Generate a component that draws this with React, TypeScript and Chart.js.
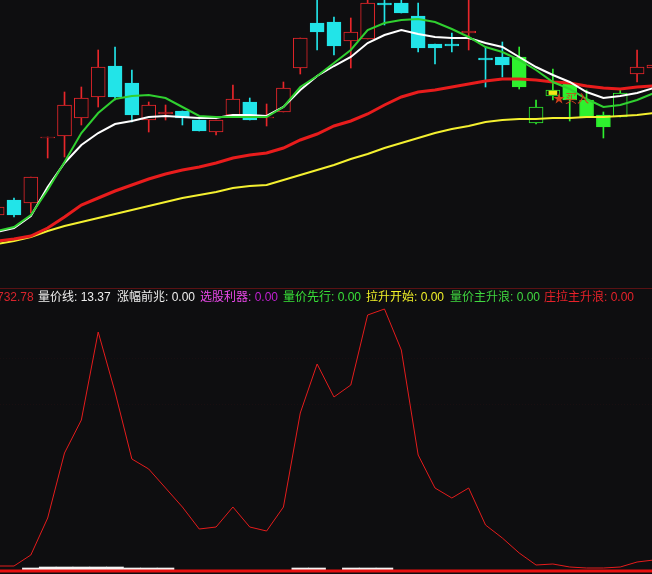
import React, { useEffect, useRef } from 'react';
import { Chart, registerables } from 'chart.js';
Chart.register(...registerables);

// ---------- data ----------
const openP = [19.25, 20.0, 19.85, 23.1, 23.2, 24.1, 25.15, 26.7, 25.85, 24.0, 24.3, 24.45, 24.0, 23.4, 24.25, 24.9, 24.1, 24.4, 26.6, 28.85, 28.9, 27.95, 28.05, 29.85, 29.85, 29.2, 27.8, 27.8, 28.35, 27.1, 27.15, 27.15, 23.85, 25.2, 25.8, 25.0, 24.25, 24.15, 26.3, 26.6];
const highP = [19.75, 20.1, 21.15, 23.15, 25.4, 25.65, 27.5, 27.65, 26.5, 24.9, 24.75, 24.45, 24.0, 24.0, 25.75, 25.1, 24.8, 25.9, 28.1, 30.25, 29.15, 29.1, 30.15, 30.1, 30.1, 29.85, 27.8, 28.35, 30.1, 27.65, 27.9, 27.65, 25.0, 26.55, 25.8, 25.5, 24.4, 25.5, 27.5, 27.0];
const lowP = [19.15, 19.15, 19.35, 22.1, 22.15, 23.75, 24.65, 25.0, 23.9, 23.4, 24.0, 23.75, 23.45, 23.25, 24.15, 24.0, 23.7, 24.4, 26.3, 27.5, 27.25, 26.6, 28.05, 28.75, 29.35, 27.4, 26.8, 27.4, 27.5, 25.65, 26.15, 25.55, 23.8, 25.0, 23.95, 24.15, 23.1, 24.15, 25.9, 26.4];
const closeP = [19.65, 19.25, 21.15, 23.15, 24.75, 25.1, 26.65, 25.15, 24.25, 24.75, 24.4, 24.1, 23.45, 24.0, 25.05, 24.0, 24.15, 25.6, 28.1, 28.4, 27.7, 28.4, 29.85, 29.75, 29.35, 27.6, 27.6, 27.7, 28.45, 27.0, 26.75, 25.65, 24.65, 25.5, 25.0, 24.15, 23.65, 25.35, 26.65, 26.75];
// 量价主升浪 flag per bar
const mainWave = [0, 0, 0, 0, 0, 0, 0, 0, 0, 0, 0, 0, 0, 0, 0, 0, 0, 0, 0, 0, 0, 0, 0, 0, 0, 0, 0, 0, 0, 0, 0, 1, 1, 1, 1, 1, 1, 1, 0, 0];

const maGreen = [18.45, 18.65, 19.25, 20.5, 21.9, 23.35, 24.35, 25.05, 25.2, 25.25, 25.1, 24.65, 24.2, 24.15, 24.15, 24.15, 24.15, 24.65, 25.65, 26.2, 26.85, 27.5, 28.5, 28.85, 29.0, 29.05, 28.9, 28.55, 28.15, 27.65, 27.4, 27.0, 26.5, 25.9, 25.55, 25.05, 24.65, 24.75, 25.0, 25.35];
const maWhite = [18.4, 18.6, 19.2, 20.65, 21.85, 22.75, 23.35, 23.8, 23.95, 24.15, 24.2, 24.15, 24.1, 24.1, 24.25, 24.25, 24.2, 24.65, 25.5, 26.2, 26.7, 27.15, 27.85, 28.25, 28.5, 28.3, 28.15, 28.1, 28.1, 27.85, 27.65, 27.15, 26.65, 26.25, 25.9, 25.4, 25.1, 25.2, 25.35, 25.6];
const maRed = [17.95, 18.05, 18.2, 18.6, 19.15, 19.75, 20.1, 20.45, 20.75, 21.05, 21.3, 21.5, 21.65, 21.85, 22.1, 22.25, 22.35, 22.6, 23.0, 23.3, 23.7, 23.95, 24.3, 24.75, 25.15, 25.4, 25.5, 25.65, 25.8, 25.95, 26.05, 26.05, 26.0, 25.9, 25.85, 25.7, 25.6, 25.55, 25.65, 25.7];
const maYellow = [17.8, 17.95, 18.15, 18.45, 18.7, 18.9, 19.1, 19.3, 19.5, 19.7, 19.9, 20.1, 20.25, 20.4, 20.6, 20.7, 20.75, 21.0, 21.25, 21.5, 21.75, 22.05, 22.3, 22.6, 22.85, 23.1, 23.35, 23.55, 23.7, 23.9, 24.0, 24.05, 24.05, 24.1, 24.1, 24.15, 24.15, 24.2, 24.25, 24.35];

// 拉升开始 marker
const liftIdx = [33];
const liftLow = [25.27];
const liftHigh = [25.45];
// buy signal
const signalIdx = 33;
const signalPrice = 25.1;
const signalText = '★买入';

// lower indicator
const flowLine = [50, 50, 160, 530, 1180, 1510, 2390, 1790, 1120, 1020, 830, 640, 420, 440, 640, 440, 400, 640, 1580, 2070, 1740, 1860, 2560, 2620, 2210, 1160, 830, 730, 830, 460, 330, 180, 60, 70, 40, 30, 30, 40, 90, 110];
const pulse = [null, null, 30, 40, 40, 40, 40, 40, 30, 30, 30, null, null, null, null, null, null, null, 30, 30, null, 30, 30, 30, null, null, null, null, null, null, null, null, null, null, null, null, null, null, null, null];
const baseLine = [0, 0, 0, 0, 0, 0, 0, 0, 0, 0, 0, 0, 0, 0, 0, 0, 0, 0, 0, 0, 0, 0, 0, 0, 0, 0, 0, 0, 0, 0, 0, 0, 0, 0, 0, 0, 0, 0, 0, 0];
const lowerGrid = [1660, 2130];

const legendLabels = ['', '量价线', '涨幅前兆', '选股利器', '量价先行', '拉升开始', '量价主升浪', '庄拉主升浪'];
const legendValues = ['732.78', '13.37', '0.00', '0.00', '0.00', '0.00', '0.00', '0.00'];

// ---------- styles ----------
const BG = '#0e0e10';
const RED = '#e8262a';
const CYAN = '#22e4e8';
const GREEN = '#2ef02e';
const X_MIN = 0.169;
const X_MAX = 38.886;

export default function App() {
  const topRef = useRef<HTMLCanvasElement>(null);
  const botRef = useRef<HTMLCanvasElement>(null);
  const tagRef = useRef<HTMLSpanElement>(null);

  useEffect(() => {
    document.body.style.margin = '0';
    document.body.style.background = BG;
    const xs = openP.map((_, i) => i);
    const up = (i: number) => closeP[i] >= openP[i];
    const stroke = xs.map((i) => (mainWave[i] ? GREEN : up(i) ? RED : CYAN));
    const fill = xs.map((i) => (up(i) ? BG : stroke[i]));
    const xScale: any = { type: 'linear', min: X_MIN, max: X_MAX, display: false, offset: false };
    const line = (vals: number[], color: string, width: number, order: number) => ({
      type: 'line' as const,
      data: xs.map((i) => ({ x: i, y: vals[i] })),
      borderColor: color,
      borderWidth: width,
      pointRadius: 0,
      tension: 0,
      order,
    });

    const top = new Chart(topRef.current!, {
      type: 'bar',
      data: {
        datasets: [
          line(maGreen, '#30d030', 2, 0),
          line(maWhite, '#ffffff', 2, 1),
          line(maRed, '#e81c1c', 3, 2),
          line(maYellow, '#f4f030', 2, 3),
          {
            type: 'bar',
            data: liftIdx.map((x, k) => ({ x, y: [liftLow[k], liftHigh[k]] })),
            backgroundColor: '#f0e818',
            barThickness: 8,
            grouped: false,
            order: 4,
          } as any,
          {
            type: 'bar',
            data: xs.map((i) => ({ x: i, y: [openP[i], closeP[i]] })),
            backgroundColor: fill,
            borderColor: stroke,
            borderWidth: 1,
            borderSkipped: false,
            barThickness: 14,
            grouped: false,
            order: 5,
          } as any,
          {
            type: 'bar',
            data: xs.map((i) => ({ x: i, y: [lowP[i], highP[i]] })),
            backgroundColor: stroke,
            barThickness: 1,
            grouped: false,
            order: 6,
          } as any,
        ],
      },
      options: {
        animation: false,
        responsive: false,
        maintainAspectRatio: false,
        events: [],
        layout: { padding: 0 },
        plugins: { legend: { display: false }, tooltip: { enabled: false } },
        scales: {
          x: xScale,
          y: { type: 'linear', min: 15.6, max: 30, display: false },
        },
      } as any,
    });

    if (tagRef.current) {
      const px = top.scales.x.getPixelForValue(signalIdx);
      const py = top.scales.y.getPixelForValue(signalPrice);
      tagRef.current.style.left = px + 'px';
      tagRef.current.style.top = py - 8 + 'px';
    }

    const bot = new Chart(botRef.current!, {
      type: 'line',
      data: {
        datasets: [
          {
            type: 'line',
            data: xs.map((i) => ({ x: i, y: flowLine[i] })),
            borderColor: '#e41c1c',
            borderWidth: 1,
            pointRadius: 0,
            tension: 0,
            order: 0,
          },
          {
            type: 'line',
            data: xs.map((i) => ({ x: i, y: baseLine[i] })),
            borderColor: '#e81010',
            borderWidth: 3,
            pointRadius: 0,
            order: 1,
          },
          {
            type: 'bar',
            data: xs.map((i) => ({ x: i, y: pulse[i] })),
            backgroundColor: '#f4f4f4',
            barPercentage: 1,
            categoryPercentage: 1,
            grouped: false,
            order: 2,
          } as any,
        ],
      },
      options: {
        animation: false,
        responsive: false,
        maintainAspectRatio: false,
        events: [],
        layout: { padding: 0 },
        plugins: { legend: { display: false }, tooltip: { enabled: false } },
        scales: {
          x: xScale,
          y: {
            type: 'linear',
            min: -30,
            max: 2830,
            display: true,
            ticks: { display: false },
            border: { display: false, dash: [1, 2] },
            grid: { color: '#24101280', drawTicks: false },
            afterBuildTicks: (axis: any) => {
              axis.ticks = lowerGrid.map((v) => ({ value: v }));
            },
            afterFit: (axis: any) => {
              axis.width = 0;
            },
          },
        },
      } as any,
    });

    return () => {
      top.destroy();
      bot.destroy();
    };
  }, []);

  const legendColors = [
    ['#d8242c', '#d8242c'],
    ['#eeeeee', '#eeeeee'],
    ['#eeeeee', '#eeeeee'],
    ['#e848e8', '#c020d0'],
    ['#38e038', '#38e038'],
    ['#f0f028', '#f0f028'],
    ['#40d840', '#40d840'],
    ['#e8222a', '#e8222a'],
  ];
  const legendLeft = [-3, 38, 117, 200, 283, 366, 450, 544];

  return (
    <div style={{ position: 'relative', width: 652, height: 574, background: BG, overflow: 'hidden' }}>
      <canvas ref={topRef} width={652} height={288} style={{ position: 'absolute', left: 0, top: 0, width: 652, height: 288 }} />
      <canvas ref={botRef} width={652} height={286} style={{ position: 'absolute', left: 0, top: 288, width: 652, height: 286 }} />
      <div style={{ position: 'absolute', left: 0, top: 288, width: 652, height: 1, background: '#5a1214' }} />
      <span
        ref={tagRef}
        style={{
          position: 'absolute',
          left: 553,
          top: 90,
          fontSize: 12,
          lineHeight: '16px',
          fontFamily: '"Noto Sans CJK SC", sans-serif',
          color: '#d2401c',
          whiteSpace: 'nowrap',
        }}
      >
        {signalText}
      </span>
      <div
        style={{
          position: 'absolute',
          left: 0,
          top: 290,
          width: 652,
          height: 14,
          fontSize: 12,
          lineHeight: '14px',
          fontFamily: '"Liberation Sans", "Noto Sans CJK SC", sans-serif',
          whiteSpace: 'nowrap',
        }}
      >
        {legendLabels.map((lab, k) => (
          <span key={k} style={{ position: 'absolute', left: legendLeft[k], top: 0 }}>
            {lab ? <span style={{ color: legendColors[k][0] }}>{lab}: </span> : null}
            <span style={{ color: legendColors[k][1] }}>{legendValues[k]}</span>
          </span>
        ))}
      </div>
    </div>
  );
}
